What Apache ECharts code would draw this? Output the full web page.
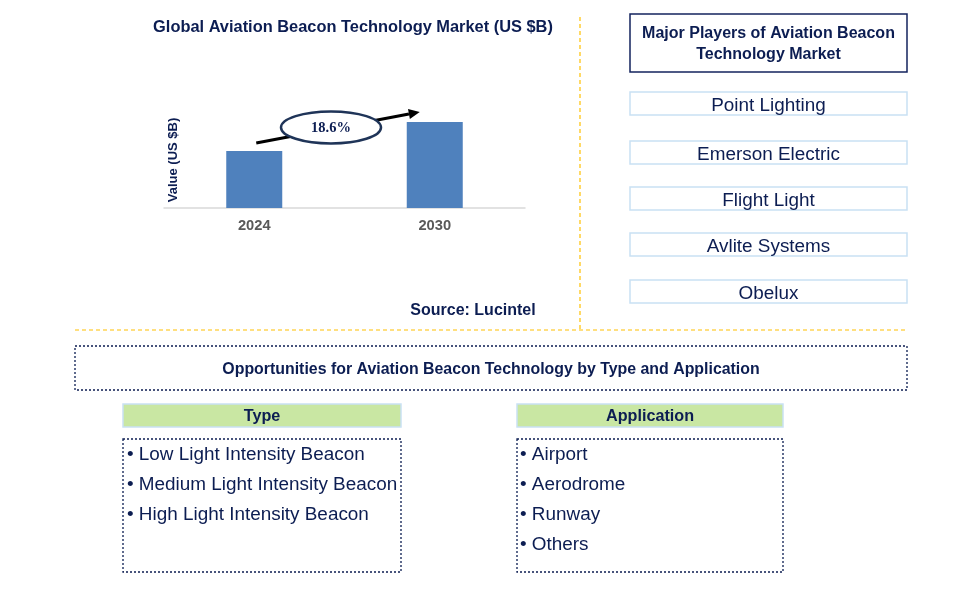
<!DOCTYPE html>
<html>
<head>
<meta charset="utf-8">
<script src="https://cdn.jsdelivr.net/npm/echarts@6/dist/echarts.min.js"></script>
<style>
html,body{margin:0;padding:0;background:#fff;}
#main{width:972px;height:613px;}
</style>
</head>
<body>
<div id="main"></div>
<script>
// ---- data ----
const years = ['2024', '2030'];
const marketValues = [1.0, 1.51];
const cagrLabel = '18.6%';
const chartTitle = 'Global Aviation Beacon Technology Market (US $B)';
const yAxisName = 'Value (US $B)';
const sourceText = 'Source: Lucintel';
const playersTitle = ['Major Players of Aviation Beacon', 'Technology Market'];
const players = ['Point Lighting', 'Emerson Electric', 'Flight Light', 'Avlite Systems', 'Obelux'];
const opportunitiesTitle = 'Opportunities for Aviation Beacon Technology by Type and Application';
const typeTitle = 'Type';
const typeItems = ['Low Light Intensity Beacon', 'Medium Light Intensity Beacon', 'High Light Intensity Beacon'];
const appTitle = 'Application';
const appItems = ['Airport', 'Aerodrome', 'Runway', 'Others'];

// ---- styles ----
const NAVY = '#0c1d52';
const FONT = "'Liberation Sans', Arial, sans-serif";
const ORANGE = '#ffc000';
const LIGHTBLUE = '#c9e1f4';
const DY = 1.5;

const chart = echarts.init(document.getElementById('main'), null, {renderer: 'canvas'});

function txt(x, y, text, size, bold, color, align, extra) {
  return Object.assign({
    type: 'text', x: x, y: y + DY, z: 10,
    style: {
      text: text, fill: color || NAVY, font: (bold ? 'bold ' : '') + size + 'px ' + FONT,
      textAlign: align || 'center', textVerticalAlign: 'middle'
    }
  }, extra || {});
}
function rect(x, y, w, h, stroke, fill, dash, lw) {
  return {
    type: 'rect', shape: {x: x, y: y, width: w, height: h}, z: 5,
    style: {fill: fill || 'none', stroke: stroke, lineWidth: lw || 1.5, lineDash: dash || null}
  };
}

const graphics = [];
// title & source
graphics.push(txt(353, 26, chartTitle, 16.4, true));
graphics.push(txt(473, 309, sourceText, 16, true));
// y-axis name (rotated)
graphics.push(Object.assign(txt(172, 160 - DY, yAxisName, 13, true, NAVY, 'center', {rotation: Math.PI / 2}), {x: 172 + DY}));
// orange separators
graphics.push({type: 'line', shape: {x1: 580, y1: 17, x2: 580, y2: 330}, style: {stroke: ORANGE, lineWidth: 1.2, lineDash: [4, 3]}});
graphics.push({type: 'line', shape: {x1: 75, y1: 330, x2: 907, y2: 330}, style: {stroke: ORANGE, lineWidth: 1.2, lineDash: [4, 3]}});
// players panel
graphics.push(rect(630, 14, 277, 58, '#13235e', '#fff', null, 1.5));
graphics.push(txt(768.5, 32, playersTitle[0], 16, true));
graphics.push(txt(768.5, 53, playersTitle[1], 16, true));
const playerTops = [92, 141, 187, 233, 280];
players.forEach(function (p, i) {
  graphics.push(rect(630, playerTops[i], 277, 23, LIGHTBLUE, '#fff', null, 1.5));
  graphics.push(txt(768.5, playerTops[i] + 12.5, p, 18.9, false));
});
// opportunities
graphics.push(rect(75, 346, 832, 44, NAVY, 'none', [2, 2], 1.3));
graphics.push(txt(491, 368, opportunitiesTitle, 15.9, true));
// type
graphics.push(rect(123, 404, 278, 23, LIGHTBLUE, '#c9e7a3', null, 1.5));
graphics.push(txt(262, 415.5, typeTitle, 16.2, true));
graphics.push(rect(123, 439, 278, 133, NAVY, 'none', [2, 2], 1.3));
typeItems.forEach(function (t, i) {
  graphics.push(txt(127, 453 + i * 30, '\u2022 ' + t, 18.9, false, NAVY, 'left'));
});
// application
graphics.push(rect(517, 404, 266, 23, LIGHTBLUE, '#c9e7a3', null, 1.5));
graphics.push(txt(650, 415.5, appTitle, 16.2, true));
graphics.push(rect(517, 439, 266, 133, NAVY, 'none', [2, 2], 1.3));
appItems.forEach(function (t, i) {
  graphics.push(txt(520, 453 + i * 30, '\u2022 ' + t, 18.9, false, NAVY, 'left'));
});

const option = {
  animation: false,
  backgroundColor: '#fff',
  grid: {left: 164, right: 447, top: 94, bottom: 405, containLabel: false},
  xAxis: {
    type: 'category', data: years,
    axisLine: {lineStyle: {color: '#d9d9d9', width: 1.5}},
    axisTick: {show: false},
    axisLabel: {color: '#595959', fontWeight: 'bold', fontSize: 14.7, fontFamily: FONT, margin: 10}
  },
  yAxis: {
    type: 'value', min: 0, max: 2,
    axisLine: {show: false}, axisTick: {show: false}, axisLabel: {show: false}, splitLine: {show: false}
  },
  series: [{
    type: 'bar', data: marketValues, barWidth: 56,
    itemStyle: {color: '#4f81bd'}
  }],
  graphic: graphics
};
chart.setOption(option);

// CAGR arrow + ellipse, anchored to the bars
const p1 = chart.convertToPixel({seriesIndex: 0}, [0, marketValues[0]]);
const p2 = chart.convertToPixel({seriesIndex: 0}, [1, marketValues[1]]);
const sx = p1[0] + 2, sy = p1[1] - 8;
const ex = p2[0] - 15, ey = p2[1] - 10;
const ang = Math.atan2(ey - sy, ex - sx);
const hl = 11, hw = 5;
const bx = ex - hl * Math.cos(ang), by = ey - hl * Math.sin(ang);
const cx = (sx + ex) / 2 - 7, cy = (sy + ey) / 2;
chart.setOption({
  graphic: graphics.concat([
    {type: 'line', z: 20, shape: {x1: sx, y1: sy, x2: bx, y2: by}, style: {stroke: '#000', lineWidth: 3}},
    {type: 'polygon', z: 20, shape: {points: [[ex, ey],
      [bx + hw * Math.sin(ang), by - hw * Math.cos(ang)],
      [bx - hw * Math.sin(ang), by + hw * Math.cos(ang)]]}, style: {fill: '#000'}},
    {type: 'ellipse', z: 21, shape: {cx: cx, cy: cy, rx: 50, ry: 16}, style: {fill: '#fff', stroke: '#1f3458', lineWidth: 2.5}},
    {type: 'text', z: 22, x: cx, y: cy + 1, style: {text: cagrLabel, fill: NAVY,
      font: "bold 14.5px 'Liberation Serif', 'DejaVu Serif', serif", textAlign: 'center', textVerticalAlign: 'middle'}}
  ])
});
</script>
</body>
</html>
